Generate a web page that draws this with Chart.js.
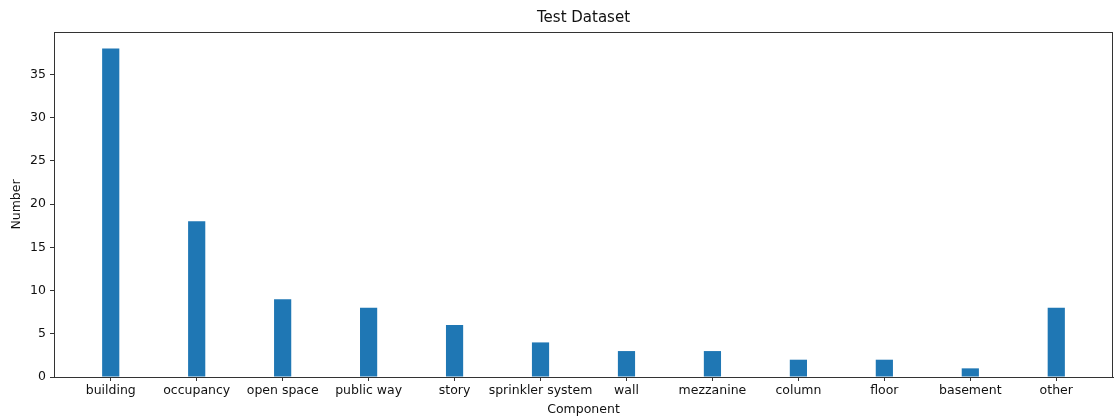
<!DOCTYPE html>
<html>
<head>
<meta charset="utf-8">
<script src="https://cdn.jsdelivr.net/npm/chart.js@4/dist/chart.umd.min.js"></script>
<style>
html, body { margin: 0; padding: 0; background: #fff; }
#wrap { width: 1114px; height: 417px; }
</style>
</head>
<body>
<div id="wrap"><canvas id="compChart"></canvas></div>
<script>
const components = ["building", "occupancy", "open space", "public way", "story", "sprinkler system", "wall", "mezzanine", "column", "floor", "basement", "other"];
const counts = [38, 18, 9, 8, 6, 4, 3, 3, 2, 2, 1, 8];
const yTicks = [0, 5, 10, 15, 20, 25, 30, 35];

const font = "'DejaVu Sans', sans-serif";

// matplotlib style box round the plot
const frame = {
  id: "frame",
  afterDraw(chart) {
    const a = chart.chartArea;
    const ctx = chart.ctx;
    ctx.save();
    ctx.strokeStyle = "#333";
    ctx.lineWidth = 1;
    ctx.strokeRect(Math.round(a.left) + 0.5, Math.round(a.top) + 0.5, Math.round(a.right - a.left) - 1, Math.round(a.bottom - a.top));
    ctx.restore();
  }
};

new Chart(
  document.getElementById("compChart"),
  {
    type: "bar",
    data: {
      datasets: [{
        label: "Number",
        data: counts.map((v, i) => ({ x: i, y: v })),
        backgroundColor: "#1f77b4",
        barPercentage: 0.2,
        categoryPercentage: 1
      }]
    },
    plugins: [frame],
    options: {
      responsive: true,
      maintainAspectRatio: false,
      animation: false,
      layout: { padding: { left: 0, right: 1, top: 0, bottom: 0 } },
      plugins: {
        legend: { display: false },
        tooltip: { enabled: false },
        title: {
          display: true,
          text: "Test Dataset",
          fullSize: false,
          color: "#111",
          font: { family: font, size: 15, weight: "normal" },
          padding: { top: 9, bottom: 5 }
        }
      },
      scales: {
        x: {
          type: "linear",
          offset: false,
          min: -0.66,
          max: 11.66,
          afterBuildTicks: s => { s.ticks = components.map((c, i) => ({ value: i })); },
          afterFit: s => { s.height = 40; },
          ticks: {
            autoSkip: false,
            maxRotation: 0,
            color: "#111",
            padding: 2,
            font: { family: font, size: 12.5 },
            callback: v => components[v]
          },
          grid: { display: true, offset: false, drawOnChartArea: false, drawTicks: true, tickLength: 4, color: "#333" },
          border: { display: true, color: "#333" },
          title: {
            display: true,
            text: "Component",
            color: "#111",
            font: { family: font, size: 12.5 },
            padding: { top: 0, bottom: 0 }
          }
        },
        y: {
          min: 0,
          max: 39.9,
          afterBuildTicks: s => { s.ticks = yTicks.map(v => ({ value: v })); },
          afterFit: s => { s.width = 54; },
          ticks: {
            color: "#111",
            padding: 4,
            font: { family: font, size: 12.5 }
          },
          grid: { display: true, drawOnChartArea: false, drawTicks: true, tickLength: 4, color: "#333" },
          border: { display: true, color: "#333" },
          title: {
            display: true,
            text: "Number",
            color: "#111",
            font: { family: font, size: 12.5 },
            padding: { top: 9, bottom: 4 }
          }
        }
      }
    }
  }
);
</script>
</body>
</html>
